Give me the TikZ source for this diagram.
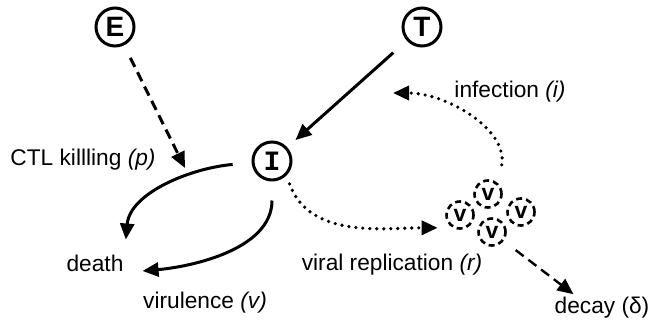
\documentclass[tikz,border=0pt]{standalone}
\usepackage{fontspec}
\setmainfont{Liberation Sans}
\newfontfamily\cellfont{Liberation Mono}
\usetikzlibrary{arrows.meta}

\begin{document}
\begin{tikzpicture}[x=1pt, y=1pt,
    cell/.style={draw, circle, line width=3pt, minimum size=38pt, inner sep=0pt,
        font=\fontsize{28}{28}\selectfont\bfseries},
    virion/.style={draw, circle, line width=2.6pt, dash pattern=on 6pt off 4pt,
        minimum size=27pt, inner sep=0pt, font=\fontsize{23}{23}\selectfont\bfseries},
    lbl/.style={inner sep=1pt, font=\fontsize{22.7}{26}\selectfont},
    flow/.style={line width=3pt, -{Triangle[length=16pt,width=14pt]}},
    spread/.style={flow, line width=3.6pt, line cap=round, dash pattern=on 0pt off 7pt},
    loss/.style={flow, dash pattern=on 10pt off 6pt}]
    \useasboundingbox (0,0) rectangle (650,325);

    % Cells
    \node[cell] (E) at (115,298) {E};
    \node[cell] (T) at (422,298) {T};
    \node[cell, font=\fontsize{28}{28}\selectfont\cellfont\bfseries] (I) at (272,164) {I};

    % Virus particles
    \node[virion] (v1) at (460,110) {v};
    \node[virion] (v2) at (488,131) {v};
    \node[virion] (v3) at (521,113) {v};
    \node[virion] (v4) at (492,93) {v};

    % Labels
    \node[lbl] (ctl) at (83,165) {CTL killling \textit{(p)}};
    \node[lbl] (death) at (95,62) {death};
    \node[lbl] (vir) at (205,22) {virulence \textit{(v)}};
    \node[lbl] (inf) at (510,233) {infection \textit{(i)}};
    \node[lbl] (rep) at (392,60) {viral replication \textit{(r)}};
    \node[lbl] (decay) at (602,17) {decay (δ)};

    % Free ends
    \coordinate (kill) at (185,157);
    \coordinate (entry) at (393,232);

    % Arrows
    \draw[loss, shorten <=14pt] (E) -- (kill);
    \draw[flow, shorten <=18pt, shorten >=11pt] (T) -- (I);
    \draw[flow, shorten <=19pt, shorten >=14pt] (I) to[out=185, in=85] (death.north east);
    \draw[flow, shorten <=19pt, shorten >=18pt] (I) to[out=-90, in=5] (death.south east);
    \draw[spread, shorten <=9pt, shorten >=15pt] (I.-45) to[out=-70, in=180] (v1.240);
    \draw[spread, shorten <=19pt] (v2.north east) to[out=80, in=0] (entry);
    \draw[loss, line width=2.4pt, shorten <=15pt] (v4) -- ([xshift=20pt,yshift=2pt]decay.north west);
\end{tikzpicture}
\end{document}
